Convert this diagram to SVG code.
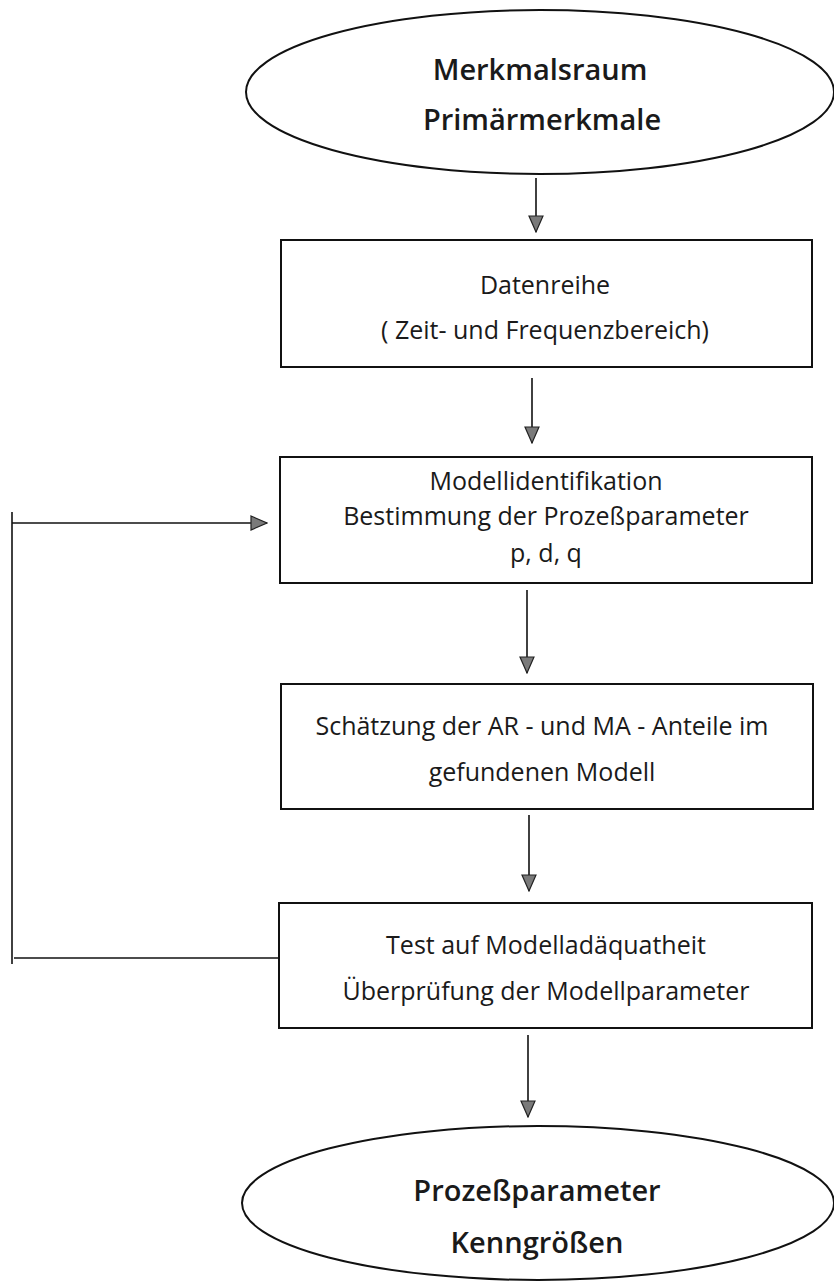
<svg xmlns="http://www.w3.org/2000/svg" width="834" height="1284" viewBox="0 0 834 1284">
<style>
.bg{fill:#ffffff}
.shape{fill:none;stroke:#111;stroke-width:2}
.conn{fill:none;stroke:#111;stroke-width:1.6}
.t{font-family:"Open Sans","Liberation Sans",sans-serif;font-size:25px;fill:#1a1a1a;text-anchor:middle}
.big{font-family:"Open Sans","Liberation Sans",sans-serif;font-size:29px;font-weight:600;fill:#1a1a1a;text-anchor:middle}
</style>
<defs>
<marker id="ah" viewBox="0 0 18 16" markerWidth="18" markerHeight="16" refX="17" refY="8" orient="auto" markerUnits="userSpaceOnUse">
<path d="M1,1 L17,8 L1,15 Z" fill="#7a7a7a" stroke="#222" stroke-width="1.2"/>
</marker>
</defs>
<rect class="bg" x="0" y="0" width="834" height="1284"/>
<g id="connectors">
<line class="conn" x1="536" y1="178" x2="536" y2="232" marker-end="url(#ah)"/>
<line class="conn" x1="532" y1="378" x2="532" y2="443" marker-end="url(#ah)"/>
<line class="conn" x1="527" y1="590" x2="527" y2="673" marker-end="url(#ah)"/>
<line class="conn" x1="529" y1="815" x2="529" y2="891" marker-end="url(#ah)"/>
<line class="conn" x1="528" y1="1035" x2="528" y2="1117" marker-end="url(#ah)"/>
<line class="conn" x1="12" y1="512" x2="12" y2="964"/>
<line class="conn" x1="12" y1="523" x2="267" y2="523" marker-end="url(#ah)"/>
<line class="conn" x1="14" y1="958" x2="279" y2="958"/>
</g>
<g id="node-merkmalsraum">
<ellipse class="shape" cx="540" cy="92" rx="294" ry="82"/>
<text class="big" x="540" y="80">Merkmalsraum</text>
<text class="big" x="542" y="130">Primärmerkmale</text>
</g>
<g id="node-datenreihe">
<rect class="shape" x="281" y="240" width="531" height="127"/>
<text class="t" x="545" y="294">Datenreihe</text>
<text class="t" x="545" y="339">( Zeit- und Frequenzbereich)</text>
</g>
<g id="node-modellidentifikation">
<rect class="shape" x="280" y="457" width="532" height="126"/>
<text class="t" x="546" y="490">Modellidentifikation</text>
<text class="t" x="546" y="525">Bestimmung der Prozeßparameter</text>
<text class="t" x="546" y="562">p, d, q</text>
</g>
<g id="node-schaetzung">
<rect class="shape" x="281" y="684" width="532" height="125"/>
<text class="t" x="542" y="735">Schätzung der AR - und MA - Anteile im</text>
<text class="t" x="542" y="781">gefundenen Modell</text>
</g>
<g id="node-test">
<rect class="shape" x="279" y="903" width="533" height="125"/>
<text class="t" x="546" y="954">Test auf Modelladäquatheit</text>
<text class="t" x="546" y="1000">Überprüfung der Modellparameter</text>
</g>
<g id="node-prozessparameter">
<ellipse class="shape" cx="538" cy="1203" rx="296" ry="77"/>
<text class="big" x="537" y="1201">Prozeßparameter</text>
<text class="big" x="537" y="1253">Kenngrößen</text>
</g>
</svg>
